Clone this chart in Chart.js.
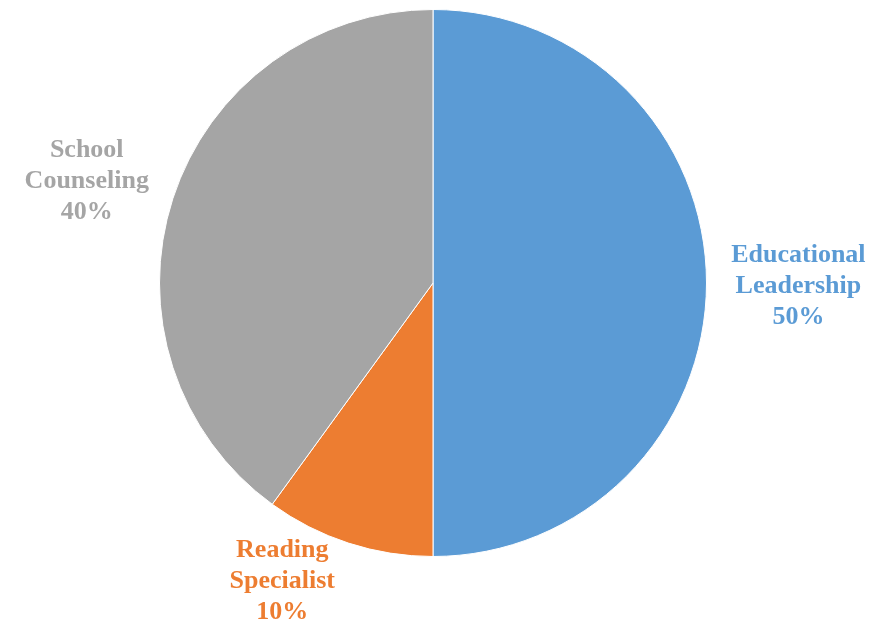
<!DOCTYPE html>
<html>
<head>
<meta charset="utf-8">
<script src="https://cdn.jsdelivr.net/npm/chart.js@4.4.0/dist/chart.umd.min.js"></script>
<style>
  html, body { margin: 0; padding: 0; background: #fff; }
  #wrap { width: 885px; height: 624px; }
</style>
</head>
<body>
<div id="wrap"><canvas id="myChart" width="885" height="624"></canvas></div>
<script>
const labels = [['Educational', 'Leadership'], ['Reading', 'Specialist'], ['School', 'Counseling']];
const values = [50, 10, 40];
const colors = ['#5B9BD5', '#ED7D31', '#A5A5A5'];

// draws the outside labels in the slice colour
const outsideLabels = {
    id: 'outsideLabels',
    afterDatasetsDraw(chart) {
        const c = chart.ctx;
        const meta = chart.getDatasetMeta(0);
        const total = values.reduce((a, b) => a + b, 0);
        // label centre relative to pie centre, in radii (pushed out like Excel does)
        const off = [[1.336, 0.011], [-0.551, 1.091], [-1.266, -0.372]];
        c.save();
        c.font = 'bold 26px "Liberation Serif", "Times New Roman", serif';
        c.textAlign = 'center';
        c.textBaseline = 'middle';
        meta.data.forEach((arc, i) => {
            const r = arc.outerRadius;
            const x = arc.x + off[i][0] * r;
            const y = arc.y + off[i][1] * r;
            const lines = labels[i].concat([Math.round(values[i] / total * 100) + '%']);
            const lh = 31;
            c.fillStyle = colors[i];
            lines.forEach((t, j) => {
                c.fillText(t, x, y + (j - (lines.length - 1) / 2) * lh);
            });
        });
        c.restore();
    }
};

let ctx = document.getElementById('myChart').getContext('2d');
let myChart = new Chart(ctx, {
    type: 'pie',
    data: {
        labels: labels.map(l => l.join(' ')),
        datasets: [{
            data: values,
            backgroundColor: colors,
            borderColor: '#ffffff',
            borderWidth: 1
        }]
    },
    options: {
        responsive: false,
        animation: false,
        layout: {
            padding: { left: 159, right: 178, top: 9, bottom: 67 }
        },
        plugins: {
            legend: { display: false },
            tooltip: { enabled: false }
        }
    },
    plugins: [outsideLabels]
});
</script>
</body>
</html>
